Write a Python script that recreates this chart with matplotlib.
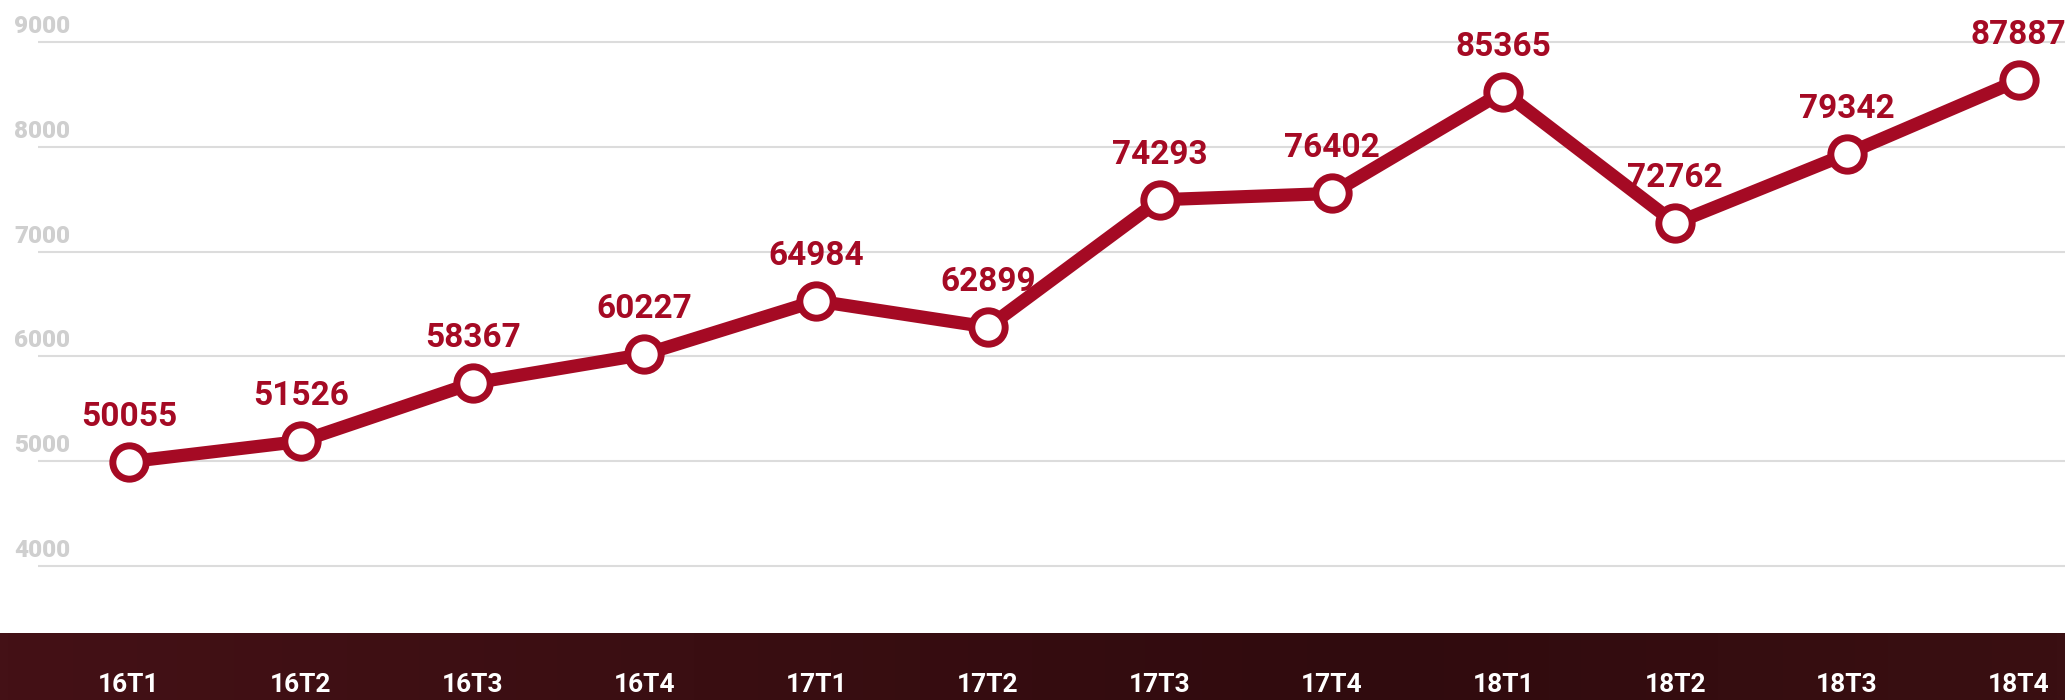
import numpy as np
import matplotlib
matplotlib.use("Agg")
import matplotlib.pyplot as plt
from matplotlib import transforms

# quarters and values
quarters = ["16T1", "16T2", "16T3", "16T4", "17T1", "17T2",
            "17T3", "17T4", "18T1", "18T2", "18T3", "18T4"]
plot_values = [4995, 5190, 5745, 6020, 6530, 6280,
               7495, 7555, 8525, 7270, 7933, 8636]
value_labels = ["50055", "51526", "58367", "60227", "64984", "62899",
                "74293", "76402", "85365", "72762", "79342", "87887"]
y_ticks = [4000, 5000, 6000, 7000, 8000, 9000]

RED = "#a50a24"
W, H = 2065, 700

plt.rcParams["font.family"] = ["Roboto", "DejaVu Sans"]
plt.rcParams["font.weight"] = "bold"

fig = plt.figure(figsize=(W / 100, H / 100), dpi=100)
fig.patch.set_facecolor("white")

# dark band at the bottom
band = fig.add_axes([0, 0, 1, 67 / H], zorder=0)
grad = np.linspace(0, 1, 256).reshape(1, -1)
band.imshow(grad, aspect="auto", extent=(0, 1, 0, 1),
            cmap=matplotlib.colors.LinearSegmentedColormap.from_list(
                "band", ["#441116", "#3a0e12", "#300b0e", "#3a0f12"]))
band.axis("off")

ax = fig.add_axes([38 / W, 67 / H, (W - 38) / W, 633 / H], zorder=2)
ax.patch.set_alpha(0)
x = np.arange(len(quarters))
ax.set_xlim((38 - 129) / 171.8, (W - 129) / 171.8)
ax.set_ylim(3361, 9401)

ax.set_yticks(y_ticks)
ax.yaxis.grid(True, color="#dcdcdc", linewidth=1.5)
ax.set_axisbelow(True)
ax.tick_params(axis="y", length=0, labelleft=False)
for s in ax.spines.values():
    s.set_visible(False)

# y labels sit above their gridline, at the far left
trans = transforms.blended_transform_factory(fig.transFigure, ax.transData)
trans = transforms.offset_copy(trans, fig=fig, y=6.5, units="points")
for t in y_ticks:
    ax.text(14 / W, t, str(t), transform=trans, ha="left", va="baseline",
            fontsize=17.5, color="#cfcfcf", fontweight="heavy", clip_on=False)

ax.plot(x, plot_values, color=RED, linewidth=9.5, solid_joinstyle="miter",
        marker="o", markersize=24, markerfacecolor="white",
        markeredgecolor=RED, markeredgewidth=5, zorder=3, clip_on=False)

for xi, v, lab in zip(x, plot_values, value_labels):
    ax.annotate(lab, (xi, v), xytext=(0, 26), textcoords="offset points",
                ha="center", va="baseline", fontsize=24, color=RED,
                fontweight="bold", annotation_clip=False)

ax.set_xticks(x)
ax.set_xticklabels(quarters)
ax.tick_params(axis="x", length=0, pad=29, labelsize=19, labelcolor="white")

fig.savefig("out.png", dpi=100)
